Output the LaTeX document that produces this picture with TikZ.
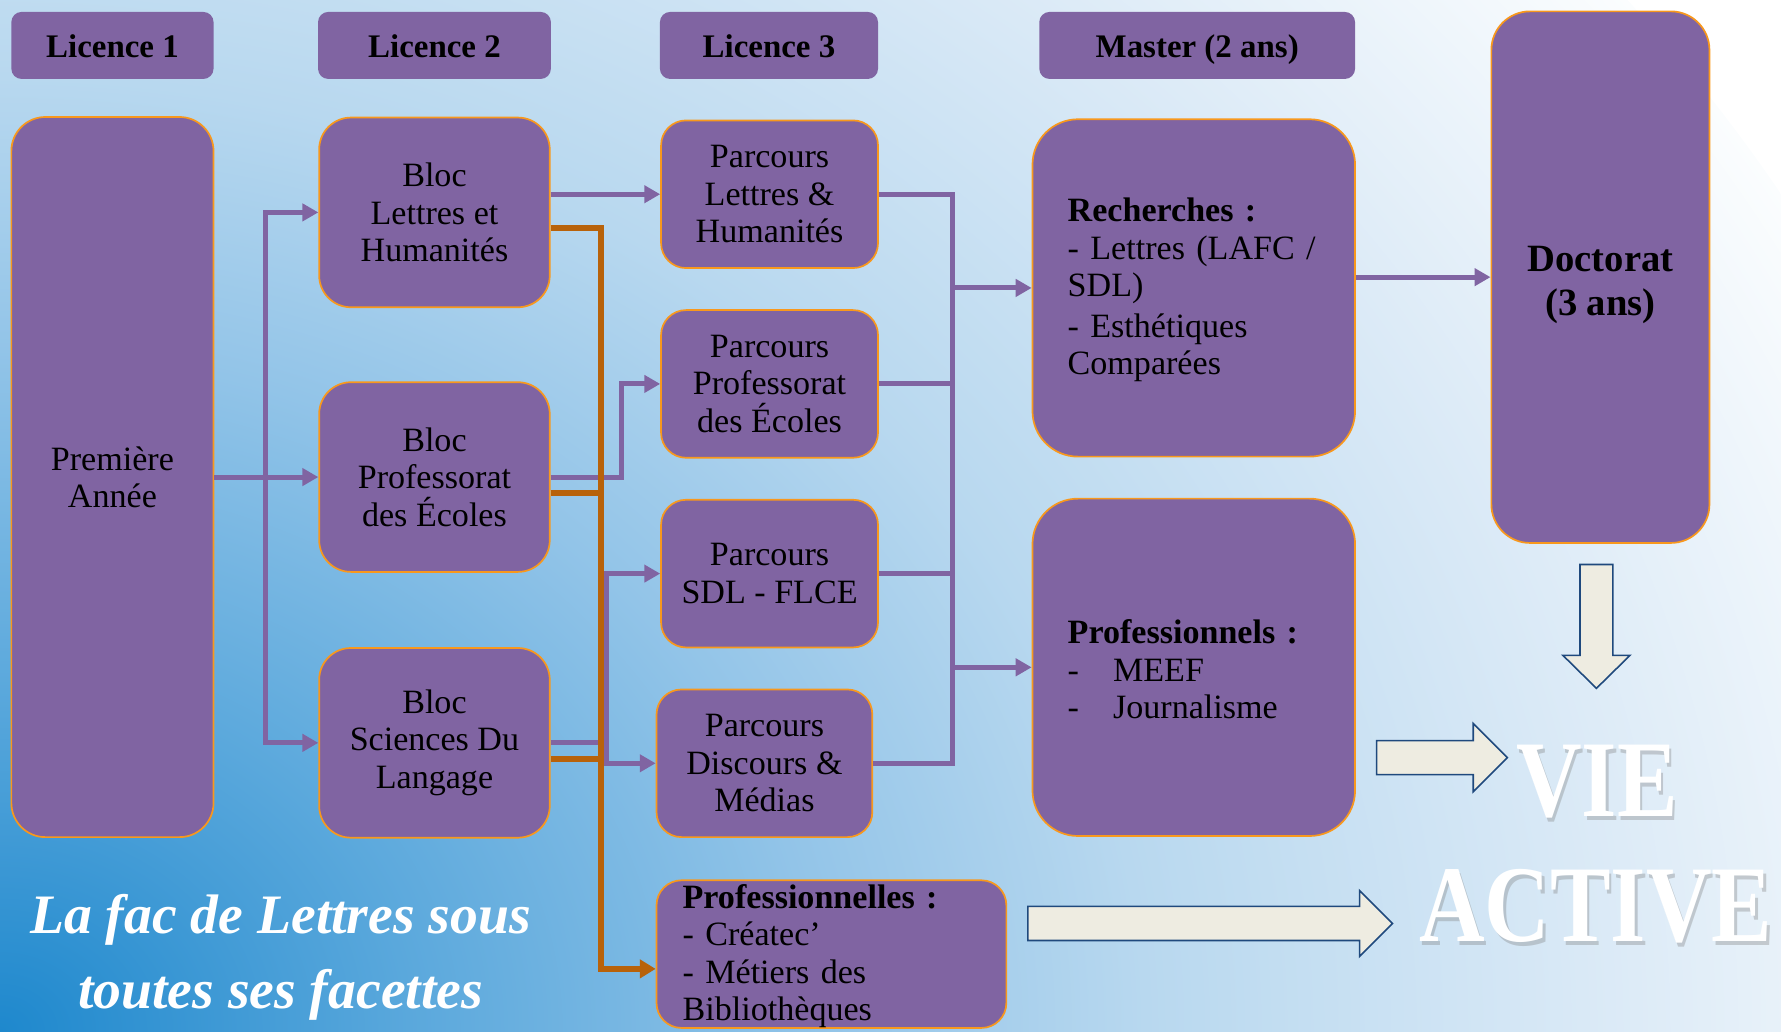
\documentclass[tikz,border=0pt]{standalone}
\usepackage{fontspec}
\setmainfont{Liberation Serif}
\usetikzlibrary{arrows.meta}
\definecolor{mauve}{HTML}{8064A2}
\definecolor{bordorange}{HTML}{F8981D}
\definecolor{filorange}{HTML}{B8620A}
\definecolor{fleche}{HTML}{EEECE1}
\definecolor{flechebord}{HTML}{1F497D}
\definecolor{fondA}{HTML}{1E88CD}
\definecolor{fondB}{HTML}{5AA8DC}
\definecolor{fondC}{HTML}{92C4E8}
\definecolor{fondD}{HTML}{B8D8EF}
\definecolor{fondE}{HTML}{DDEBF7}
\definecolor{fondF}{HTML}{FBFDFE}
\pgfdeclareradialshading{fondrad}{\pgfpoint{0bp}{0bp}}{color(0bp)=(fondA); color(5bp)=(fondB);
  color(10bp)=(fondC); color(14bp)=(fondD); color(20bp)=(fondE); color(25bp)=(fondF); color(50bp)=(fondF)}
\begin{document}
\begin{tikzpicture}[x=1pt, y=-1pt,
    hdr/.style={fill=mauve, rounded corners=9pt, inner sep=0pt, minimum height=59pt,
      text height=25pt, text depth=4pt, font=\fontsize{29}{33}\selectfont\bfseries},
    boite/.style={fill=mauve, draw=bordorange, line width=1.5pt, inner sep=0pt, align=center,
      font=\fontsize{30}{33}\selectfont},
    liste/.style={boite, align=left, execute at begin node={\rule{0pt}{24.5pt}}},
    lien/.style={draw=mauve, line width=4.4pt},
    fl/.style={lien, -{Triangle[length=14pt,width=15pt]}},
    lienor/.style={draw=filorange, line width=5.5pt},
    flor/.style={lienor, -{Triangle[length=14pt,width=16pt]}},
    grosse/.style={fill=fleche, draw=flechebord, line width=1.4pt},
    vie/.style={text=white, inner sep=0pt, font=\fontsize{80}{90}\selectfont\bfseries},
    ombre/.style={vie, text=black!50, opacity=.35}]
      \useasboundingbox (0,0) rectangle (1568,908);
      \begin{scope}
        \clip (0,0) rectangle (1568,908);
        \shade[shading=fondrad] (0,908) ellipse [x radius=1800pt, y radius=1500pt];
      \end{scope}

      %%titres des annees
      \node[hdr, minimum width=178pt] (l1) at (99,40) {Licence 1};
      \node[hdr, minimum width=205pt] (l2) at (382.5,40) {Licence 2};
      \node[hdr, minimum width=192pt] (l3) at (677,40) {Licence 3};
      \node[hdr, minimum width=278pt] (m) at (1054,40) {Master (2 ans)};

      %%L1
      \node[boite, rounded corners=30pt, minimum width=178pt, minimum height=634pt] (annee)
        at (99,420) {Première\\Année};
      %%L2
      \node[boite, rounded corners=28pt, minimum width=203pt, minimum height=167pt] (bloclh)
        at (382.5,187) {Bloc\\Lettres et\\Humanités};
      \node[boite, rounded corners=28pt, minimum width=203pt, minimum height=167pt] (blocpe)
        at (382.5,420) {Bloc\\Professorat\\des Écoles};
      \node[boite, rounded corners=28pt, minimum width=203pt, minimum height=167pt] (blocsdl)
        at (382.5,654) {Bloc\\Sciences Du\\Langage};
      %%L3
      \node[boite, rounded corners=22pt, minimum width=191pt, minimum height=130pt] (parlh)
        at (677.5,171) {Parcours\\Lettres \&\\Humanités};
      \node[boite, rounded corners=22pt, minimum width=191pt, minimum height=130pt] (parpe)
        at (677.5,338) {Parcours\\Professorat\\des Écoles};
      \node[boite, rounded corners=22pt, minimum width=191pt, minimum height=130pt] (parsdl)
        at (677.5,505) {Parcours\\SDL - FLCE};
      \node[boite, rounded corners=22pt, minimum width=190pt, minimum height=130pt] (pardm)
        at (673,672) {Parcours\\Discours \&\\Médias};
      \node[liste, rounded corners=22pt, text width=262pt, inner xsep=23pt,
        minimum width=308pt, minimum height=130pt] (pro)
        at (732,840) {\textbf{Professionnelles :}\\- Créatec’\\- Métiers des\\Bibliothèques};
      %%master
      \node[liste, rounded corners=40pt, text width=222pt, inner xsep=31pt,
        minimum width=284pt, minimum height=297pt] (rech)
        at (1051,253.5) {\textbf{Recherches :}\\- Lettres (LAFC /\\SDL)\\[3pt]- Esthétiques\\Comparées};
      \node[liste, rounded corners=40pt, text width=222pt, inner xsep=31pt,
        minimum width=284pt, minimum height=297pt] (prof)
        at (1051,587.5) {\textbf{Professionnels :}\\\makebox[40pt][l]{-}MEEF\\\makebox[40pt][l]{-}Journalisme};
      %%doctorat
      \node[boite, rounded corners=34pt, minimum width=192pt, minimum height=468pt,
        font=\fontsize{34}{38}\selectfont\bfseries] (doct)
        at (1409,244) {\rule{0pt}{36pt}Doctorat\\(3 ans)};

      %%jonctions
      \coordinate (jL) at (234,420);
      \coordinate (jPE) at (547,420);
      \coordinate (jSDL) at (534,654);
      \coordinate (jO) at (529,853);
      \coordinate (jR) at (839,171);

      %%L1 vers L2
      \draw[fl] (annee.east) -- (blocpe.west);
      \draw[fl] (jL) |- (bloclh.west);
      \draw[fl] (jL) |- (blocsdl.west);
      %%L2 vers L3
      \draw[fl] (bloclh.east |- parlh.west) -- (parlh.west);
      \draw[fl] (blocpe.east) -- (jPE) |- (parpe.west);
      \draw[lien] (blocsdl.east) -- (jSDL);
      \draw[fl] (jSDL) |- (parsdl.west);
      \draw[fl] (jSDL) |- (pardm.west);
        %%orange
        \draw[flor] ([yshift=-14pt]bloclh.east) -| (jO) -- (jO -| pro.west);
        \draw[lienor] ([yshift=-14pt]blocpe.east) -- ([yshift=-14pt]blocpe.east -| jO);
        \draw[lienor] ([yshift=-14pt]blocsdl.east) -- ([yshift=-14pt]blocsdl.east -| jO);
      %%L3 vers master
      \draw[lien] (parlh.east) -- (jR) |- (pardm.east);
      \draw[lien] (parpe.east) -- (parpe.east -| jR);
      \draw[lien] (parsdl.east) -- (parsdl.east -| jR);
      \draw[fl] (jR |- rech.west) -- (rech.west);
      \draw[fl] (jR |- prof.west) -- (prof.west);
      %%master vers doctorat
      \draw[fl] (rech.east |- doct.west) -- (doct.west);

      %%grosses fleches
      \draw[grosse] (1391,497) -- (1420,497) -- (1420,577) -- (1435,577) -- (1405.5,606)
        -- (1376,577) -- (1391,577) -- cycle;
      \draw[grosse] (1212,652) -- (1297,652) -- (1297,637) -- (1327,667) -- (1297,697)
        -- (1297,682) -- (1212,682) -- cycle;
      \draw[grosse] (905,798) -- (1197,798) -- (1197,784) -- (1226,813) -- (1197,842)
        -- (1197,828) -- (905,828) -- cycle;

      %%vie active
      \node[ombre, anchor=base] (vieo) at (1408,722) {\scalebox{1}[1.2]{VIE}};
      \node[ombre, anchor=base] (activeo) at (1407,832) {\scalebox{1}[1.2]{ACTIVE}};
      \node[vie, anchor=base] (vie) at (1406,719) {\scalebox{1}[1.2]{VIE}};
      \node[vie, anchor=base] (active) at (1405,829) {\scalebox{1}[1.2]{ACTIVE}};

      %%titre
      \node[text=white, align=center, font=\fontsize{49}{66}\selectfont\bfseries\itshape] (titre)
        at (247,843) {La fac de Lettres sous\\toutes ses facettes};
\end{tikzpicture}
\end{document}
